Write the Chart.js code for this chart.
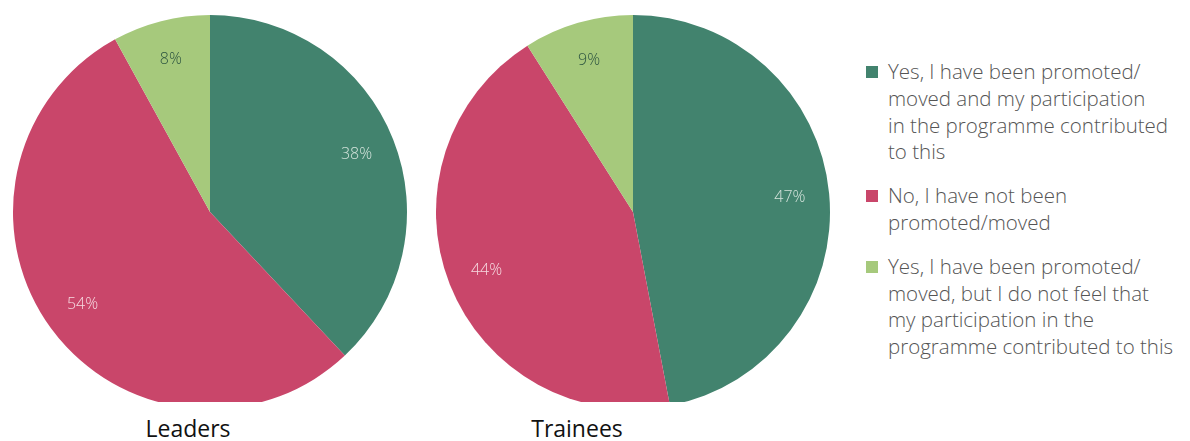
<!DOCTYPE html>
<html>
<head>
<meta charset="utf-8">
<script src="https://cdn.jsdelivr.net/npm/chart.js@4"></script>
<style>
  body { margin: 0; background: #fff; width: 1190px; height: 441px; overflow: hidden; position: relative; font-family: "Open Sans", Lato, sans-serif; }
  .pie { position: absolute; top: 0; width: 420px; height: 402px; overflow: hidden; }
  .pie canvas { display: block; }
  .title { position: absolute; top: 412px; font-size: 23px; color: #111; transform: translateX(-50%); white-space: nowrap; }
  #legend { position: absolute; left: 866px; top: 58px; width: 324px; color: #555; font-size: 20.5px; line-height: 26.8px; font-weight: 300; white-space: nowrap; }
  #legend .item { position: relative; padding-left: 22px; margin-bottom: 17px; }
  #legend .box { position: absolute; left: 0; top: 8px; width: 12px; height: 12px; }
</style>
</head>
<body>
<div class="pie" style="left:0"><canvas id="leaders" width="420" height="424"></canvas></div>
<div class="pie" style="left:423px"><canvas id="trainees" width="420" height="424"></canvas></div>
<div class="title" style="left:188px">Leaders</div>
<div class="title" style="left:577px">Trainees</div>
<div id="legend"></div>
<script>
const categories = [
  ['Yes, I have been promoted/', 'moved and my participation', 'in the programme contributed', 'to this'],
  ['No, I have not been', 'promoted/moved'],
  ['Yes, I have been promoted/', 'moved, but I do not feel that', 'my participation in the', 'programme contributed to this']
];
const leadersValues = [38, 54, 8];
const traineesValues = [47, 44, 9];
const colors = ['#42836E', '#C9466A', '#A6C97C'];
const labelColors = ['#d3e3db', '#f6d9e0', '#2e5641'];

// percentage labels placed inside each slice
const sliceLabels = {
  id: 'sliceLabels',
  afterDatasetsDraw(chart) {
    const ctx = chart.ctx;
    const meta = chart.getDatasetMeta(0);
    ctx.save();
    ctx.font = '300 16px "Open Sans", sans-serif';
    ctx.textAlign = 'center';
    ctx.textBaseline = 'middle';
    meta.data.forEach(function (arc, i) {
      const mid = (arc.startAngle + arc.endAngle) / 2;
      const r = arc.outerRadius * 0.8;
      ctx.fillStyle = labelColors[i];
      ctx.fillText(chart.data.datasets[0].data[i] + '%', arc.x + Math.cos(mid) * r, arc.y + Math.sin(mid) * r);
    });
    ctx.restore();
  }
};

function makePie(id, values) {
  new Chart(document.getElementById(id), {
    type: 'pie',
    data: {
      labels: categories.map(c => c.join(' ')),
      datasets: [{ data: values, backgroundColor: colors, borderWidth: 0 }]
    },
    options: {
      responsive: false,
      animation: false,
      layout: { padding: 13 },
      plugins: { legend: { display: false }, tooltip: { enabled: false } }
    },
    plugins: [sliceLabels]
  });
}
makePie('leaders', leadersValues);
makePie('trainees', traineesValues);

const legend = document.getElementById('legend');
categories.forEach(function (lines, i) {
  const item = document.createElement('div');
  item.className = 'item';
  item.innerHTML = '<span class="box" style="background:' + colors[i] + '"></span>' + lines.join('<br>');
  legend.appendChild(item);
});
</script>
</body>
</html>
